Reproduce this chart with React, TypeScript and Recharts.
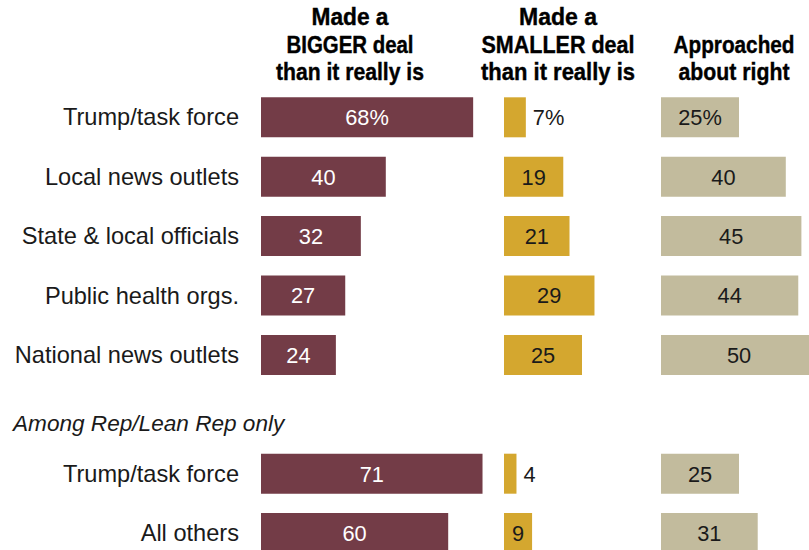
import React from "react";
import { BarChart, Bar, XAxis, YAxis, LabelList } from "recharts";

// ---------- data ----------
const categories = [
  "Trump/task force",
  "Local news outlets",
  "State & local officials",
  "Public health orgs.",
  "National news outlets",
  "Among Rep/Lean Rep only",
  "Trump/task force",
  "All others",
];
const sectionRowIndex = 5; // row that holds the italic sub-heading
const bigger = [68, 40, 32, 27, 24, null, 71, 60];
const smaller = [7, 19, 21, 29, 25, null, 4, 9];
const aboutRight = [25, 40, 45, 44, 50, null, 25, 31];

const headerBigger = ["Made a", "BIGGER deal", "than it really is"];
const headerSmaller = ["Made a", "SMALLER deal", "than it really is"];
const headerRight = ["Approached", "about right"];

// ---------- styling ----------
const FONT = '"Liberation Sans", Arial, Helvetica, sans-serif';
const C_BIG = "#733c47";
const C_SMALL = "#d4a72f";
const C_RIGHT = "#c2bb9d";
const TXT = "#1a1a1a";

const rows = categories.map((label, i) => ({
  id: i,
  label,
  bigger: bigger[i],
  smaller: smaller[i],
  aboutRight: aboutRight[i],
}));

const CHART_H = 570;
const MARGIN_TOP = 87.3;
const MARGIN_BOTTOM = CHART_H - MARGIN_TOP - 59.4 * categories.length;
const PX_PER_UNIT = 3.12;

function CategoryTick(props: any) {
  const { x, y, payload } = props;
  const idx = Number(payload.value);
  const label = categories[idx];
  if (idx === sectionRowIndex) {
    return (
      <text x={13} y={y + 17} fontFamily={FONT} fontSize={22.6} fontStyle="italic" fill={TXT} textAnchor="start">
        {label}
      </text>
    );
  }
  return (
    <text x={x} y={y} dy="0.36em" fontFamily={FONT} fontSize={23.6} fill={TXT} textAnchor="end">
      {label}
    </text>
  );
}

function makeLabel(color: string, outsideBelow: number) {
  return (p: any) => {
    const vb = p.viewBox || {};
    const x = p.x ?? vb.x;
    const y = p.y ?? vb.y;
    const w = p.width ?? vb.width;
    const h = p.height ?? vb.height;
    const v = p.value;
    if (v === null || v === undefined || x === undefined) return null;
    const text = p.index === 0 ? `${v}%` : `${v}`;
    const outside = v < outsideBelow;
    return (
      <text
        x={outside ? x + w + 7 : x + w / 2}
        y={y + h / 2}
        dy="0.36em"
        textAnchor={outside ? "start" : "middle"}
        fontFamily={FONT}
        fontSize={21.8}
        fill={outside ? TXT : color}
      >
        {text}
      </text>
    );
  };
}

function Column({
  left,
  dataKey,
  max,
  fill,
  labelColor,
  outsideBelow,
  withCategories,
}: {
  left: number;
  dataKey: string;
  max: number;
  fill: string;
  labelColor: string;
  outsideBelow: number;
  withCategories: boolean;
}) {
  const plotW = max * PX_PER_UNIT;
  const axisW = withCategories ? left : 0;
  return (
    <div style={{ position: "absolute", left: withCategories ? 0 : left, top: 0 }}>
      <BarChart
        width={axisW + plotW + 60}
        height={CHART_H}
        data={rows}
        layout="vertical"
        margin={{ top: MARGIN_TOP, right: 60, bottom: MARGIN_BOTTOM, left: 0 }}
        barCategoryGap={0}
      >
        <XAxis type="number" domain={[0, max]} hide />
        <YAxis
          type="category"
          dataKey="id"
          width={axisW}
          hide={!withCategories}
          axisLine={false}
          tickLine={false}
          tickSize={0}
          tickMargin={22}
          interval={0}
          tick={withCategories ? (t: any) => <CategoryTick {...t} /> : false}
        />
        <Bar dataKey={dataKey} fill={fill} barSize={40} isAnimationActive={false}>
          <LabelList dataKey={dataKey} content={makeLabel(labelColor, outsideBelow)} />
        </Bar>
      </BarChart>
    </div>
  );
}

function Header({ lines, cx, widths }: { lines: string[]; cx: number; widths: number[] }) {
  const baselines = [25, 52.5, 80];
  const start = baselines.length - lines.length;
  return (
    <>
      {lines.map((ln, i) => (
        <text
          key={i}
          x={cx}
          y={baselines[start + i]}
          textAnchor="middle"
          fontFamily={FONT}
          fontWeight="bold"
          fontSize={24}
          fill="#000"
          stroke="#000"
          strokeWidth={0.4}
          textLength={widths[i]}
          lengthAdjust="spacingAndGlyphs"
        >
          {ln}
        </text>
      ))}
    </>
  );
}

export default function App() {
  return (
    <div
      style={{
        position: "fixed",
        left: 0,
        top: 0,
        width: 809,
        height: 550,
        overflow: "hidden",
        background: "#fff",
      }}
    >
      <Column left={261} dataKey="bigger" max={75} fill={C_BIG} labelColor="#ffffff" outsideBelow={0} withCategories />
      <Column left={504} dataKey="smaller" max={40} fill={C_SMALL} labelColor={TXT} outsideBelow={8} withCategories={false} />
      <Column left={660.7} dataKey="aboutRight" max={60} fill={C_RIGHT} labelColor={TXT} outsideBelow={0} withCategories={false} />
      <svg width={809} height={95} style={{ position: "absolute", left: 0, top: 0 }}>
        <Header lines={headerBigger} cx={350} widths={[77, 127, 148]} />
        <Header lines={headerSmaller} cx={558} widths={[78, 153, 154]} />
        <Header lines={headerRight} cx={734} widths={[121, 111]} />
      </svg>
    </div>
  );
}
